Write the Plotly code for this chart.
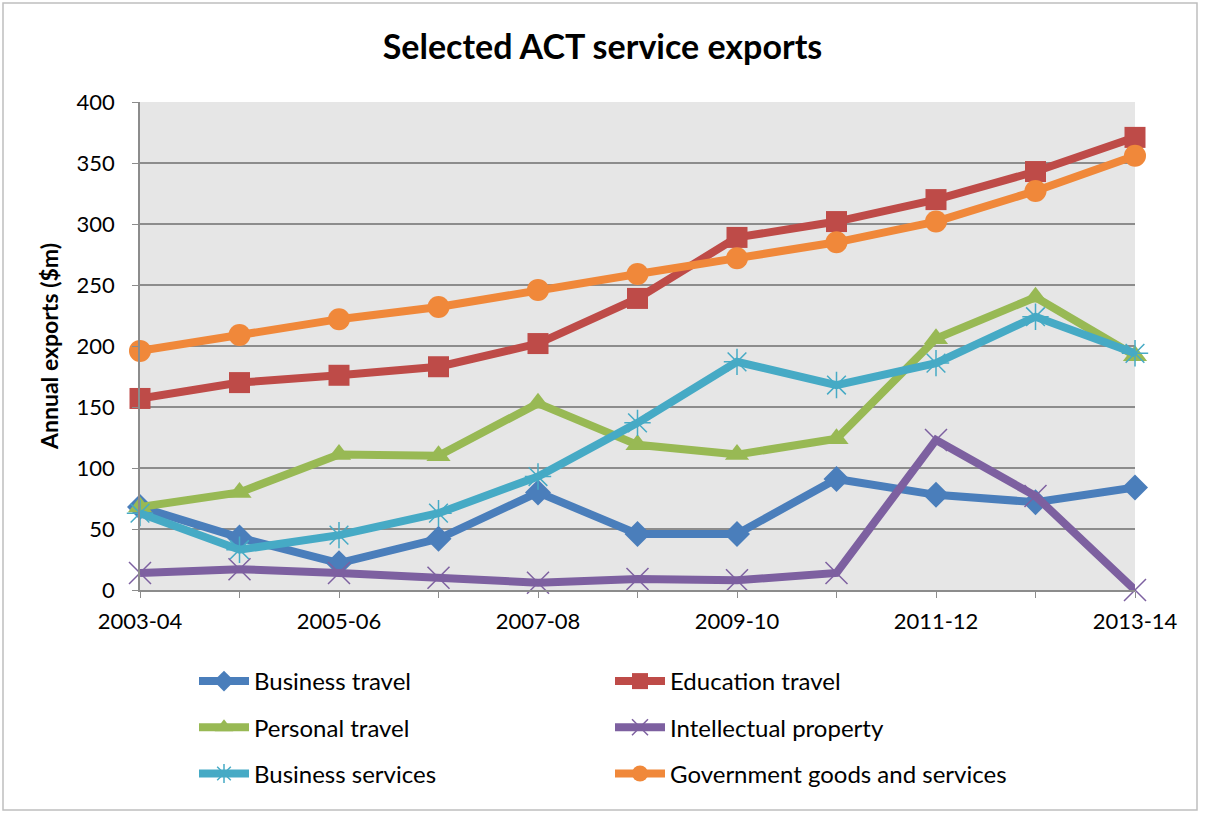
import plotly.graph_objects as go

# Financial years on the horizontal axis
years = ["2003-04", "2004-05", "2005-06", "2006-07", "2007-08", "2008-09",
         "2009-10", "2010-11", "2011-12", "2012-13", "2013-14"]

# Annual exports, $m
business_travel = [68, 43, 22, 42, 80, 46, 46, 91, 78, 72, 84]
education_travel = [157, 170, 176, 183, 202, 239, 289, 302, 320, 343, 371]
personal_travel = [68, 80, 111, 110, 153, 119, 111, 124, 206, 240, 192]
intellectual_property = [14, 17, 14, 10, 6, 9, 8, 14, 123, 77, 0]
business_services = [63, 33, 45, 63, 93, 137, 187, 168, 186, 224, 194]
government_goods = [196, 209, 222, 232, 246, 259, 272, 285, 302, 327, 356]

y_ticks = [0, 50, 100, 150, 200, 250, 300, 350, 400]
x_label_years = ["2003-04", "2005-06", "2007-08", "2009-10", "2011-12", "2013-14"]

FONT = "Lato"
W, H = 1205, 814
L, R, T, B = 140, 70, 102, 224
PW, PH = W - L - R, H - T - B

xs = list(range(len(years)))

series = [
    ("Business travel", business_travel, "#4A7EBB", "diamond", 20, "legend", None),
    ("Education travel", education_travel, "#BE4B48", "square", 21, "legend2", None),
    ("Personal travel", personal_travel, "#98B954", "triangle-up", 21, "legend", None),
    ("Intellectual property", intellectual_property, "#7D60A0", "x-thin", 22, "legend2", "#7D60A0"),
    ("Business services", business_services, "#46AAC5", "asterisk", 22, "legend", "#46AAC5"),
    ("Government goods and services", government_goods, "#F0883A", "circle", 22, "legend2", None),
]

fig = go.Figure()
for name, vals, color, sym, size, leg, mline in series:
    marker = dict(symbol=sym, size=size, color=color)
    marker["line"] = dict(color=mline, width=1.5) if mline else dict(width=0)
    fig.add_trace(go.Scatter(
        x=xs, y=vals, name=name, mode="lines+markers",
        line=dict(color=color, width=8),
        marker=marker, legend=leg, legendgroup=name,
        cliponaxis=False,
    ))

fig.update_layout(
    width=W, height=H,
    margin=dict(l=L, r=R, t=T, b=B, autoexpand=False),
    paper_bgcolor="white",
    plot_bgcolor="#E6E6E6",
    font=dict(family=FONT, size=22, color="black"),
    title=dict(text="<b>Selected ACT service exports</b>", x=0.5, xanchor="center",
               y=1 - 47 / H, yanchor="middle", font=dict(size=34, family=FONT)),
    xaxis=dict(
        range=[0, 10], tickmode="array",
        tickvals=[0, 2, 4, 6, 8, 10], ticktext=x_label_years,
        showgrid=False, zeroline=False,
        showline=True, linecolor="#8C8C8C", linewidth=1.5,
        ticks="outside", ticklen=6, tickcolor="#8C8C8C",
        minor=dict(tickvals=xs, ticks="outside", ticklen=6, tickcolor="#8C8C8C"),
        tickfont=dict(size=22), ticklabelstandoff=5,
    ),
    yaxis=dict(
        range=[0, 400], tickvals=y_ticks,
        showgrid=True, gridcolor="#8C8C8C", gridwidth=1.5,
        zeroline=False, showline=True, linecolor="#8C8C8C", linewidth=1.5,
        ticks="outside", ticklen=6, tickcolor="#8C8C8C",
        tickfont=dict(size=22), ticklabelstandoff=13,
        title=dict(text="<b>Annual exports ($m)</b>", font=dict(size=23), standoff=12),
    ),
    legend=dict(x=(194 - L) / PW, y=(H - B - 659) / PH, xanchor="left", yanchor="top",
                tracegroupgap=12, itemwidth=50, font=dict(size=24), bgcolor="rgba(0,0,0,0)"),
    legend2=dict(x=(610 - L) / PW, y=(H - B - 659) / PH, xanchor="left", yanchor="top",
                 tracegroupgap=12, itemwidth=50, font=dict(size=24), bgcolor="rgba(0,0,0,0)"),
    showlegend=True,
)

# Thin frame around the whole chart
fig.add_shape(type="rect", xref="paper", yref="paper",
              x0=(3 - L) / PW, x1=(1197 - L) / PW,
              y0=(H - B - 810) / PH, y1=(H - B - 3) / PH,
              line=dict(color="#BFBFBF", width=1.5), fillcolor="rgba(0,0,0,0)", layer="below")

fig.write_html("out.html")
